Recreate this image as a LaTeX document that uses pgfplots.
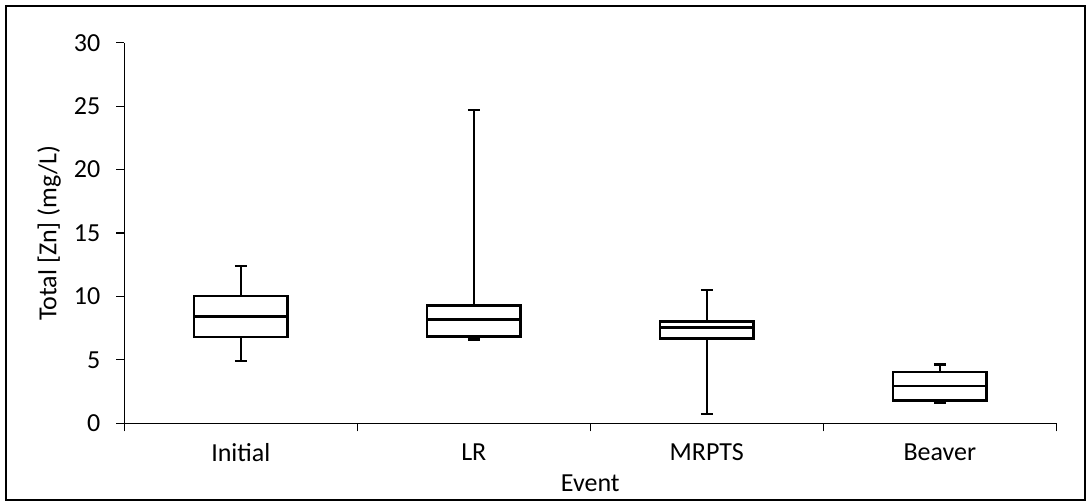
\documentclass[border=0pt]{standalone}
\usepackage{pgfplots}
\pgfplotsset{compat=1.18}
\usepgfplotslibrary{statistics}
\usepackage{fontspec}
\setmainfont{Carlito}

\begin{document}
\fontsize{13pt}{15pt}\selectfont
\begin{tikzpicture}
\useasboundingbox (0,0) rectangle (543pt,251pt);
\draw[line width=0.7pt] (3pt,1pt) rectangle (542.5pt,248pt);
\begin{axis}[
    at={(62.15pt,39.35pt)}, anchor=south west,
    width=466pt, height=190.3pt, scale only axis,
    xmin=0.5, xmax=4.5, ymin=0, ymax=30,
    axis x line*=bottom, axis y line*=left,
    axis line style={line width=0.6pt},
    tick style={line width=0.6pt, black},
    tick align=outside,
    major tick length=4pt,
    xtick={0.5,1.5,2.5,3.5,4.5},
    x tick label as interval,
    xticklabels={Initial,LR,MRPTS,Beaver},
    ytick={0,5,...,30},
    /pgf/number format/assume math mode=true,
    tick label style={font=\fontsize{13pt}{15pt}\selectfont},
    label style={font=\fontsize{13pt}{15pt}\selectfont},
    yticklabel style={xshift=-3.5pt},
    xticklabel style={yshift=-1.5pt},
    xlabel={Event},
    ylabel={Total [Zn] (mg/L)},
    xlabel style={at={(axis description cs:0.5,-0.1787)}, anchor=base},
    ylabel style={at={(axis description cs:-0.073,0.5)}, anchor=base},
    boxplot/draw direction=y,
    boxplot/box extend=0.4,
    boxplot/whisker extend=0.05,
]

% Initial
\addplot[black, line width=1.2pt, boxplot prepared={
    lower whisker=4.91, lower quartile=6.8, median=8.43,
    upper quartile=10.03, upper whisker=12.4, draw position=1}] coordinates {};

% LR
\addplot[black, line width=1.2pt, boxplot prepared={
    lower whisker=6.59, lower quartile=6.83, median=8.19,
    upper quartile=9.27, upper whisker=24.71, draw position=2}] coordinates {};

% MRPTS
\addplot[black, line width=1.2pt, boxplot prepared={
    lower whisker=0.73, lower quartile=6.67, median=7.56,
    upper quartile=8.01, upper whisker=10.5, draw position=3}] coordinates {};

% Beaver
\addplot[black, line width=1.2pt, boxplot prepared={
    lower whisker=1.6, lower quartile=1.81, median=2.94,
    upper quartile=4.02, upper whisker=4.65, draw position=4}] coordinates {};

\end{axis}
\end{tikzpicture}
\end{document}
